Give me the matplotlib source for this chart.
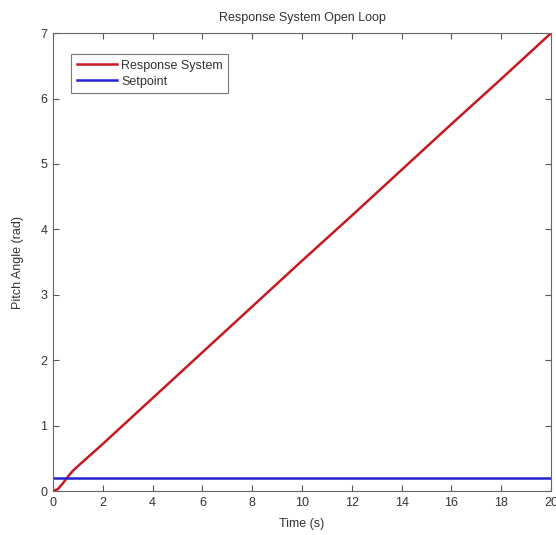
import matplotlib
matplotlib.use("Agg")
import matplotlib.pyplot as plt

# data
t = [0, 0.2, 0.4, 0.6, 0.8, 1.0, 1.5, 2, 4, 6, 8, 10, 12, 14, 16, 18, 20]
response = [0, 0.03, 0.12, 0.22, 0.31, 0.38, 0.55, 0.72, 1.42, 2.12, 2.82,
            3.52, 4.21, 4.91, 5.61, 6.30, 7.0]
setpoint_t = [0, 20]
setpoint = [0.2, 0.2]

xticks = list(range(0, 21, 2))
yticks = list(range(0, 8))

plt.rcParams["font.family"] = ["Liberation Sans", "DejaVu Sans"]
txt = "#333333"

fig = plt.figure(figsize=(5.56, 5.35), dpi=100)
ax = fig.add_axes([0.0953, 0.0822, 0.8957, 0.8558])

ax.plot(t, response, color="#c41a22", lw=1.8, label="Response System")
ax.plot(setpoint_t, setpoint, color="#2424d0", lw=1.8, label="Setpoint")

ax.set_xlim(0, 20)
ax.set_ylim(0, 7)
ax.set_xticks(xticks)
ax.set_yticks(yticks)
ax.tick_params(direction="in", top=True, right=True, labelsize=9,
               colors="#555555", labelcolor=txt, length=4, pad=4)
for s in ax.spines.values():
    s.set_color("#666666")

ax.set_title("Response System Open Loop", fontsize=9, color=txt, pad=9)
ax.set_xlabel("Time (s)", fontsize=9, color=txt, labelpad=7)
ax.set_ylabel("Pitch Angle (rad)", fontsize=9, color=txt, labelpad=12)

leg = ax.legend(loc="upper left", bbox_to_anchor=(0.036, 0.954), fontsize=9,
                frameon=True, fancybox=False, borderaxespad=0,
                handlelength=3.2, handletextpad=0.35, labelspacing=0.3,
                borderpad=0.45)
leg.get_frame().set_edgecolor("#555555")
leg.get_frame().set_linewidth(0.8)
for tx in leg.get_texts():
    tx.set_color(txt)

fig.savefig("out.png", dpi=100)
